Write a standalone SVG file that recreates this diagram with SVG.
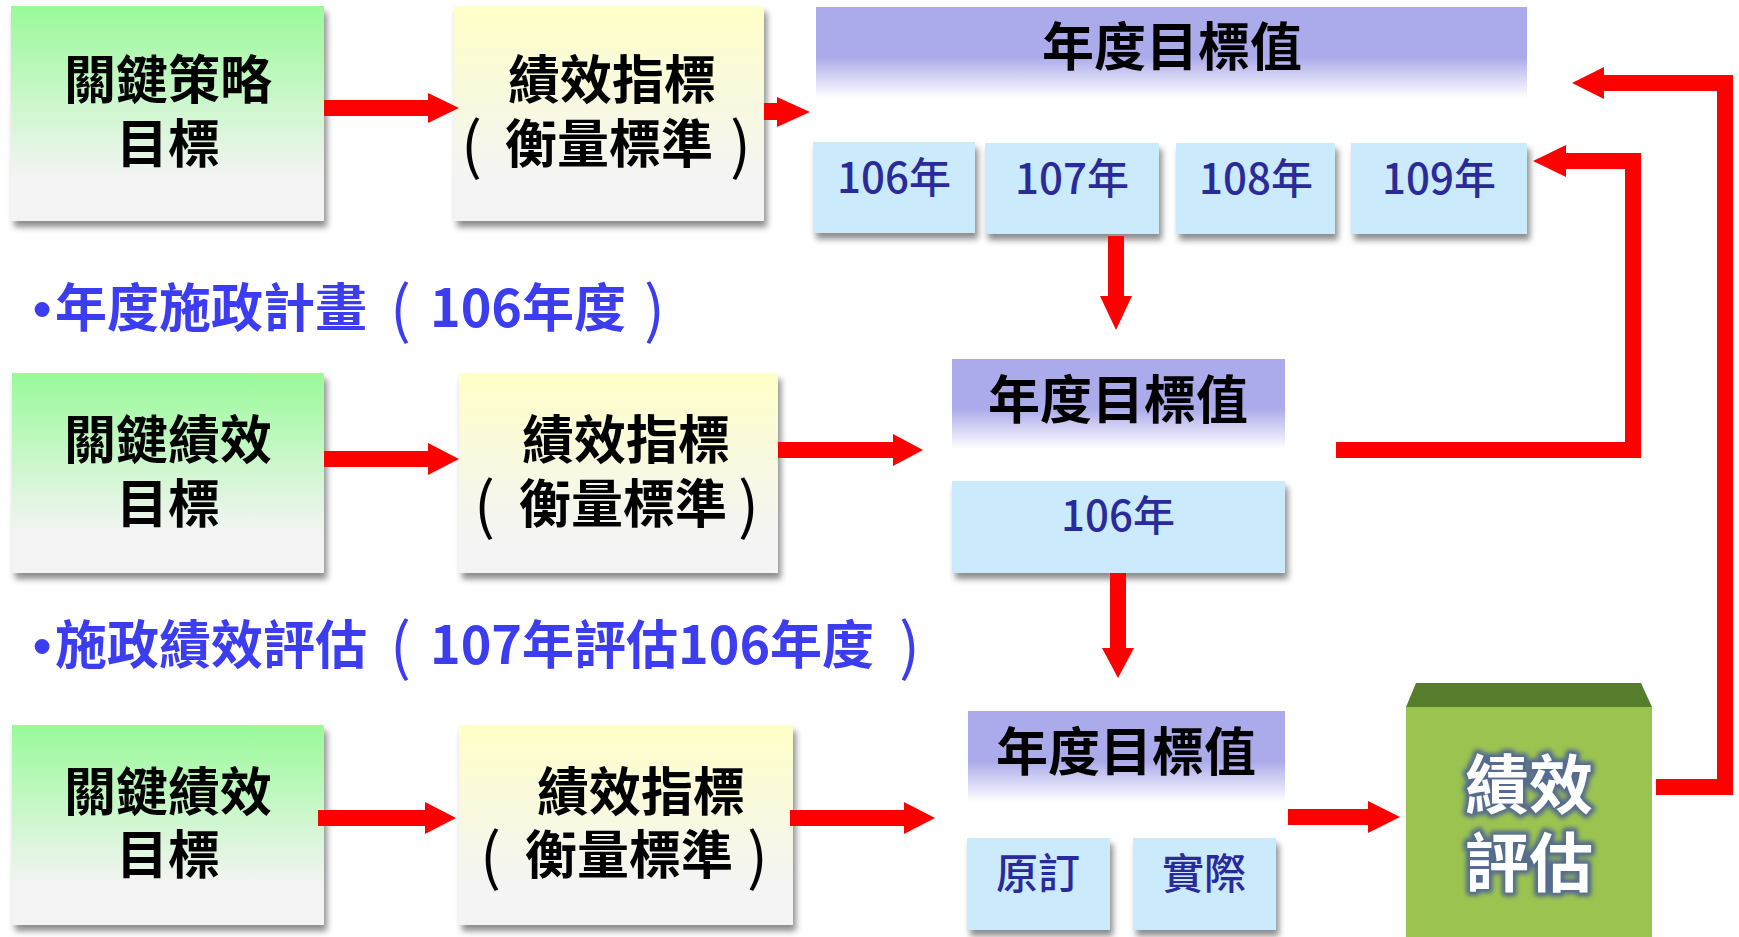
<svg xmlns="http://www.w3.org/2000/svg" width="1739" height="937" viewBox="0 0 1739 937">
<defs>
<linearGradient id="gGreen" x1="0" y1="0" x2="0" y2="1">
<stop offset="0" stop-color="#99fa99"/><stop offset="0.8" stop-color="#f4f4f4"/><stop offset="1" stop-color="#f4f4f4"/>
</linearGradient>
<linearGradient id="gYellow" x1="0" y1="0" x2="0" y2="1">
<stop offset="0" stop-color="#ffffc8"/><stop offset="0.8" stop-color="#f4f4f4"/><stop offset="1" stop-color="#f4f4f4"/>
</linearGradient>
<linearGradient id="gHdr" x1="0" y1="0" x2="0" y2="1">
<stop offset="0" stop-color="#abaaea"/><stop offset="0.55" stop-color="#abaaea"/><stop offset="1" stop-color="#ffffff"/>
</linearGradient>
<filter id="shadow" x="-10%" y="-10%" width="125%" height="130%">
<feDropShadow dx="3" dy="6" stdDeviation="3" flood-color="#000" flood-opacity="0.45"/>
</filter>
<filter id="glow" x="-20%" y="-20%" width="140%" height="140%">
<feGaussianBlur stdDeviation="2"/>
</filter>
</defs>
<style>
text{font-family:"Noto Sans CJK TC","Noto Sans CJK SC",sans-serif;}
.bx{font-size:52px;font-weight:bold;fill:#000;text-anchor:middle;}
.bs{font-size:52px;font-weight:bold;fill:#000;text-anchor:start;}
.pr{font-weight:normal;font-size:62px;}
.hd{font-size:52px;font-weight:bold;fill:#000;text-anchor:middle;}
.yr{font-size:42px;fill:#2a2a9a;text-anchor:middle;font-weight:500;}
.blue{font-size:52px;font-weight:bold;fill:#3c3cf0;}
.dot{font-family:"Liberation Sans",sans-serif;}
.yrbox{fill:#cbeafc;}
.arr{fill:#ff0000;}
.ln{fill:none;stroke:#ff0000;stroke-width:16;stroke-linejoin:miter;}
.big{font-size:64px;font-weight:bold;text-anchor:middle;}
</style>
<rect width="1739" height="937" fill="#fff"/>

<!-- Row 1 -->
<g id="n-strategy-goal">
<rect x="11" y="6" width="313" height="215" fill="url(#gGreen)" filter="url(#shadow)"/>
<text class="bx"><tspan x="168" y="99">關鍵策略</tspan><tspan x="168" y="163">目標</tspan></text>
</g>
<g id="n-kpi-1">
<rect x="454" y="6" width="310" height="215" fill="url(#gYellow)" filter="url(#shadow)"/>
<text class="bs"><tspan x="508" y="99">績效指標</tspan><tspan class="pr" x="461" y="168">(</tspan><tspan x="505" y="163">衡量標準</tspan><tspan class="pr" x="730" y="168">)</tspan></text>
</g>
<g id="n-target-top">
<rect x="816" y="7" width="711" height="91" fill="url(#gHdr)"/>
<text class="hd" x="1172" y="66">年度目標值</text>
</g>
<g id="n-y106">
<rect class="yrbox" x="813" y="142" width="162" height="91" filter="url(#shadow)"/>
<text class="yr" x="894" y="193">106年</text>
</g>
<g id="n-y107">
<rect class="yrbox" x="985" y="143" width="174" height="91" filter="url(#shadow)"/>
<text class="yr" x="1072" y="194">107年</text>
</g>
<g id="n-y108">
<rect class="yrbox" x="1176" y="143" width="159" height="91" filter="url(#shadow)"/>
<text class="yr" x="1256" y="194">108年</text>
</g>
<g id="n-y109">
<rect class="yrbox" x="1351" y="143" width="176" height="91" filter="url(#shadow)"/>
<text class="yr" x="1439" y="194">109年</text>
</g>

<!-- Labels -->
<g id="n-label-plan">
<text class="blue"><tspan class="dot" x="33" y="327">•</tspan><tspan x="55" y="327">年度施政計畫</tspan><tspan class="pr" x="390" y="332">(</tspan><tspan x="430" y="327">106年度</tspan><tspan class="pr" x="644" y="332">)</tspan></text>
</g>
<g id="n-label-eval">
<text class="blue"><tspan class="dot" x="33" y="664">•</tspan><tspan x="55" y="664">施政績效評估</tspan><tspan class="pr" x="390" y="669">(</tspan><tspan x="430" y="664">107年評估106年度</tspan><tspan class="pr" x="899" y="669">)</tspan></text>
</g>

<!-- Row 2 -->
<g id="n-kpo-2">
<rect x="12" y="373" width="312" height="200" fill="url(#gGreen)" filter="url(#shadow)"/>
<text class="bx"><tspan x="168" y="459">關鍵績效</tspan><tspan x="168" y="523">目標</tspan></text>
</g>
<g id="n-kpi-2">
<rect x="459" y="373" width="319" height="200" fill="url(#gYellow)" filter="url(#shadow)"/>
<text class="bs"><tspan x="522" y="459">績效指標</tspan><tspan class="pr" x="474" y="528">(</tspan><tspan x="519" y="523">衡量標準</tspan><tspan class="pr" x="738" y="528">)</tspan></text>
</g>
<g id="n-target-mid">
<rect x="952" y="359" width="333" height="90" fill="url(#gHdr)"/>
<text class="hd" x="1118" y="419">年度目標值</text>
</g>
<g id="n-mid-106">
<rect class="yrbox" x="952" y="481" width="333" height="92" filter="url(#shadow)"/>
<text class="yr" x="1118" y="531">106年</text>
</g>

<!-- Row 3 -->
<g id="n-kpo-3">
<rect x="12" y="725" width="312" height="200" fill="url(#gGreen)" filter="url(#shadow)"/>
<text class="bx"><tspan x="168" y="811">關鍵績效</tspan><tspan x="168" y="874">目標</tspan></text>
</g>
<g id="n-kpi-3">
<rect x="459" y="725" width="334" height="200" fill="url(#gYellow)" filter="url(#shadow)"/>
<text class="bs"><tspan x="537" y="811">績效指標</tspan><tspan class="pr" x="480" y="879">(</tspan><tspan x="525" y="874">衡量標準</tspan><tspan class="pr" x="747" y="879">)</tspan></text>
</g>
<g id="n-target-bottom">
<rect x="968" y="711" width="317" height="91" fill="url(#gHdr)"/>
<text class="hd" x="1126" y="771">年度目標值</text>
</g>
<g id="n-original">
<rect class="yrbox" x="967" y="838" width="143" height="92" filter="url(#shadow)"/>
<text class="yr" x="1038" y="889">原訂</text>
</g>
<g id="n-actual">
<rect class="yrbox" x="1133" y="838" width="143" height="92" filter="url(#shadow)"/>
<text class="yr" x="1204" y="889">實際</text>
</g>
<g id="n-evaluation">
<polygon points="1416,683 1641,683 1652,707 1406,707" fill="#567d2c"/>
<rect x="1406" y="707" width="246" height="230" fill="#9bc34f"/>
<g filter="url(#glow)">
<text class="big" fill="#556c8e" stroke="#556c8e" stroke-width="8" stroke-linejoin="round"><tspan x="1529" y="808">績效</tspan><tspan x="1529" y="886">評估</tspan></text>
</g>
<text class="big" fill="#ffffff"><tspan x="1529" y="808">績效</tspan><tspan x="1529" y="886">評估</tspan></text>
</g>

<!-- Connectors -->
<g id="connectors">
<polygon class="arr" points="324,100 428,100 428,93 459,108 428,123 428,116 324,116"/>
<polygon class="arr" points="764,103 777,103 777,97 810,112 777,127 777,120 764,120"/>
<polygon class="arr" points="1108,236 1124,236 1124,296 1132,296 1116,330 1100,296 1108,296"/>
<polygon class="arr" points="324,451 428,451 428,443 459,459 428,475 428,467 324,467"/>
<polygon class="arr" points="778,442 893,442 893,434 923,450 893,466 893,458 778,458"/>
<polygon class="arr" points="1110,573 1126,573 1126,648 1134,648 1118,678 1102,648 1110,648"/>
<polygon class="arr" points="318,810 425,810 425,802 456,818 425,834 425,826 318,826"/>
<polygon class="arr" points="790,810 904,810 904,802 935,818 904,834 904,826 790,826"/>
<polygon class="arr" points="1288,809 1368,809 1368,801 1400,817 1368,833 1368,825 1288,825"/>
<path class="ln" d="M1336,450 H1633 V161 H1562"/>
<polygon class="arr" points="1566,145 1533,161 1566,177"/>
<path class="ln" d="M1656,787 H1725 V83 H1600"/>
<polygon class="arr" points="1604,67 1572,83 1604,99"/>
</g>
</svg>
